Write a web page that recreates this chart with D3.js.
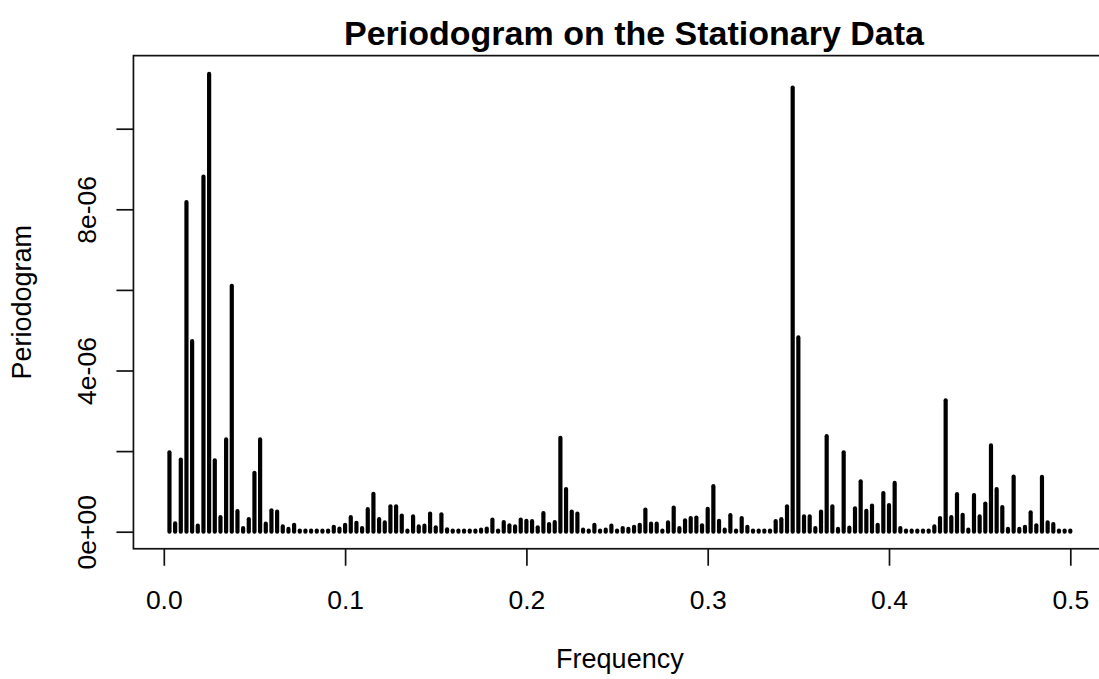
<!DOCTYPE html>
<html>
<head>
<meta charset="utf-8">
<script src="https://cdn.jsdelivr.net/npm/d3@7"></script>
<style>
  html, body { margin: 0; padding: 0; background: #fff; }
  svg { display: block; font-family: "Liberation Sans", Arial, Helvetica, sans-serif; }
</style>
</head>
<body>
<div id="chart"></div>
<script>
// series length of the original data (Fourier frequencies are k / nObs)
const nObs = 320;

// periodogram ordinates, in units of 1e-6, for k = 1..160
const specE6 = [
  1.97, 0.21, 1.79, 8.18, 4.73, 0.15, 8.81, 11.36, 1.77, 0.36,
  2.29, 6.10, 0.51, 0.09, 0.31, 1.46, 2.29, 0.20, 0.53, 0.50,
  0.13, 0.07, 0.17, 0.03, 0.03, 0.03, 0.03, 0.03, 0.03, 0.12,
  0.08, 0.17, 0.36, 0.22, 0.09, 0.56, 0.94, 0.31, 0.23, 0.63,
  0.63, 0.40, 0.03, 0.38, 0.13, 0.15, 0.45, 0.11, 0.43, 0.06,
  0.03, 0.03, 0.03, 0.03, 0.03, 0.05, 0.08, 0.30, 0.03, 0.24,
  0.16, 0.13, 0.30, 0.27, 0.26, 0.11, 0.46, 0.19, 0.24, 2.33,
  1.06, 0.50, 0.45, 0.05, 0.03, 0.17, 0.03, 0.05, 0.15, 0.03,
  0.09, 0.07, 0.12, 0.17, 0.55, 0.20, 0.20, 0.03, 0.23, 0.60,
  0.09, 0.28, 0.34, 0.35, 0.16, 0.57, 1.13, 0.27, 0.05, 0.41,
  0.03, 0.34, 0.12, 0.03, 0.03, 0.03, 0.03, 0.26, 0.31, 0.63,
  11.02, 4.82, 0.38, 0.38, 0.09, 0.50, 2.37, 0.63, 0.07, 1.97,
  0.10, 0.58, 1.25, 0.52, 0.65, 0.17, 0.96, 0.66, 1.21, 0.09,
  0.03, 0.03, 0.03, 0.03, 0.03, 0.13, 0.34, 3.26, 0.36, 0.93,
  0.42, 0.05, 0.91, 0.38, 0.70, 2.14, 1.06, 0.61, 0.07, 1.37,
  0.07, 0.12, 0.48, 0.16, 1.36, 0.23, 0.19, 0.03, 0.03, 0.03
];

const xTicks = [0, 0.1, 0.2, 0.3, 0.4, 0.5];
const xTickLabels = ['0.0', '0.1', '0.2', '0.3', '0.4', '0.5'];
const yTicks = [0, 2e-6, 4e-6, 6e-6, 8e-6, 10e-6];
const yTickLabels = ['0e+00', '', '4e-06', '', '8e-06', ''];

const titleText = 'Periodogram on the Stationary Data';
const xLabel = 'Frequency';
const yLabel = 'Periodogram';

const data = specE6.map((v, i) => ({ freq: (i + 1) / nObs, spec: v * 1e-6 }));

const width = 1099;
const height = 679;
const fontFamily = '"Liberation Sans", Arial, Helvetica, sans-serif';

const svg = d3.select('#chart')
  .append('svg')
  .attr('width', width)
  .attr('height', height);

const x = d3.scaleLinear().domain([0, 0.5]).range([163.8, 1070.3]);
const y = d3.scaleLinear().domain([0, 8e-6]).range([531.7, 209.3]);

// R style plot region: data range widened by 4% on each side
const xExt = d3.extent(data, d => d.freq);
const yExt = d3.extent(data, d => d.spec);
const xPad = (xExt[1] - xExt[0]) * 0.04;
const yPad = (yExt[1] - yExt[0]) * 0.04;
const boxLeft = x(xExt[0] - xPad), boxRight = x(xExt[1] + xPad);
const boxTop = y(yExt[1] + yPad), boxBottom = y(yExt[0] - yPad);

// spikes
svg.append('g')
  .selectAll('line')
  .data(data)
  .enter()
  .append('line')
  .attr('x1', d => x(d.freq))
  .attr('x2', d => x(d.freq))
  .attr('y1', y(0))
  .attr('y2', d => y(d.spec))
  .attr('stroke', '#000')
  .attr('stroke-width', 4.2)
  .attr('stroke-linecap', 'round');

// frame
svg.append('rect')
  .attr('x', boxLeft)
  .attr('y', boxTop)
  .attr('width', boxRight - boxLeft)
  .attr('height', boxBottom - boxTop)
  .attr('fill', 'none')
  .attr('stroke', '#111')
  .attr('stroke-width', 1.7);

// x axis
const xAxis = svg.append('g')
  .attr('transform', `translate(0,${boxBottom})`)
  .call(d3.axisBottom(x).tickValues(xTicks).tickSize(17).tickFormat((d, i) => xTickLabels[i]));
xAxis.select('.domain').remove();
xAxis.selectAll('.tick line').attr('stroke', '#111').attr('stroke-width', 1.7);
xAxis.selectAll('.tick text')
  .attr('y', 609 - boxBottom).attr('dy', null)
  .attr('fill', '#000')
  .attr('font-size', 26.5)
  .attr('font-family', fontFamily);

// y axis
const yAxis = svg.append('g')
  .attr('transform', `translate(${boxLeft},0)`)
  .call(d3.axisLeft(y).tickValues(yTicks).tickSize(17).tickFormat((d, i) => yTickLabels[i]));
yAxis.select('.domain').remove();
yAxis.selectAll('.tick line').attr('stroke', '#111').attr('stroke-width', 1.7);
yAxis.selectAll('.tick text')
  .attr('x', 0).attr('y', 0).attr('dy', null)
  .attr('text-anchor', 'middle')
  .attr('transform', `translate(${96 - boxLeft},0) rotate(-90)`)
  .attr('fill', '#000')
  .attr('font-size', 26.5)
  .attr('font-family', fontFamily);

// labels
svg.append('text')
  .attr('x', 634)
  .attr('y', 45)
  .attr('text-anchor', 'middle')
  .attr('font-size', 34)
  .attr('font-weight', 'bold')
  .text(titleText);

svg.append('text')
  .attr('x', (boxLeft + boxRight) / 2)
  .attr('y', 668)
  .attr('text-anchor', 'middle')
  .attr('font-size', 27)
  .text(xLabel);

svg.append('text')
  .attr('transform', `translate(31,${(boxTop + boxBottom) / 2}) rotate(-90)`)
  .attr('text-anchor', 'middle')
  .attr('font-size', 27)
  .text(yLabel);
</script>
</body>
</html>
